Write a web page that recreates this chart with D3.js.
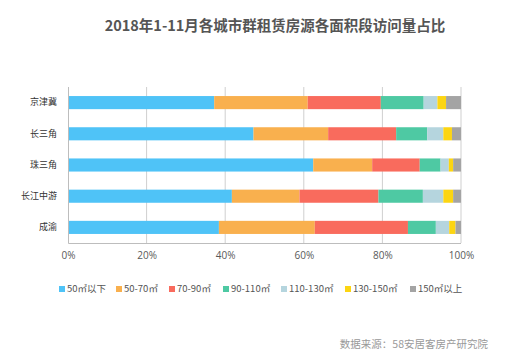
<!DOCTYPE html>
<html>
<head>
<meta charset="utf-8">
<script src="https://cdn.jsdelivr.net/npm/d3@7"></script>
<style>
  body { margin: 0; background: #fff; }
  svg { font-family: "Noto Sans CJK SC", "Noto Sans", sans-serif; }
</style>
</head>
<body>
<svg id="chart" width="517" height="360"></svg>
<script>
// --- Data ---
const regions = ["京津冀", "长三角", "珠三角", "长江中游", "成渝"];
const sizeBands = ["50㎡以下", "50-70㎡", "70-90㎡", "90-110㎡", "110-130㎡", "130-150㎡", "150㎡以上"];
const bandColors = ["#4fc3f7", "#f9b04e", "#f96b5d", "#4ec9a3", "#b5d5de", "#fcd512", "#a4a4a4"];
const shareJingjinji = [37.2, 23.8, 18.6, 10.9, 3.5, 2.2, 3.8];
const shareChangsanjiao = [47.2, 19.0, 17.3, 7.9, 4.1, 2.2, 2.3];
const shareZhusanjiao = [62.4, 15.0, 12.1, 5.3, 2.1, 1.1, 2.0];
const shareChangjiang = [41.7, 17.2, 20.1, 11.3, 5.2, 2.5, 2.0];
const shareChengyu = [38.4, 24.4, 23.7, 7.1, 3.4, 1.6, 1.4];
const tickValues = [0, 20, 40, 60, 80, 100];

const allShares = [shareJingjinji, shareChangsanjiao, shareZhusanjiao, shareChangjiang, shareChengyu];

// --- Layout ---
const margin = { left: 68, right: 56, top: 87, bottom: 117 };
const width = 517, height = 360;
const svg = d3.select("#chart");

const rows = regions.map((r, i) => {
  const o = { region: r };
  sizeBands.forEach((b, j) => (o[b] = allShares[i][j]));
  return o;
});
const stacked = d3.stack().keys(sizeBands)(rows);

const x = d3.scaleLinear().domain([0, 100]).range([margin.left, width - margin.right]);
const y = d3.scaleBand().domain(regions).range([margin.top, height - margin.bottom]).paddingInner(0.58).paddingOuter(0.29);
const color = d3.scaleOrdinal().domain(sizeBands).range(bandColors);

// title
svg.append("text")
  .attr("x", 275)
  .attr("y", 31)
  .attr("text-anchor", "middle")
  .attr("font-size", "14.5px")
  .attr("font-weight", "bold")
  .attr("fill", "#555")
  .text("2018年1-11月各城市群租赁房源各面积段访问量占比");

// gridlines
svg.append("g")
  .selectAll("line")
  .data(tickValues.slice(1))
  .join("line")
  .attr("x1", (d) => x(d))
  .attr("x2", (d) => x(d))
  .attr("y1", margin.top)
  .attr("y2", height - margin.bottom)
  .attr("stroke", "#cfcfcf")
  .attr("stroke-width", 1);

// bars
svg.append("g")
  .selectAll("g")
  .data(stacked)
  .join("g")
  .attr("fill", (d) => color(d.key))
  .selectAll("rect")
  .data((d) => d)
  .join("rect")
  .attr("x", (d) => x(d[0]))
  .attr("width", (d) => x(d[1]) - x(d[0]))
  .attr("y", (d) => y(d.data.region))
  .attr("height", y.bandwidth());

// axis frame (left + bottom)
svg.append("path")
  .attr("d", `M${x(0) + 0.5},${margin.top}V${height - margin.bottom + 0.5}H${x(100)}`)
  .attr("fill", "none")
  .attr("stroke", "#bdbdbd");

// x axis labels
const xAxis = d3.axisBottom(x)
  .tickValues(tickValues)
  .tickFormat((d) => d + "%")
  .tickSize(0)
  .tickPadding(9);
svg.append("g")
  .attr("transform", `translate(0,${height - margin.bottom})`)
  .call(xAxis)
  .call((g) => g.select(".domain").remove())
  .selectAll("text")
  .attr("font-size", "10px")
  .attr("fill", "#595959")
  .attr("font-family", "'Open Sans', 'Noto Sans', sans-serif");

// y axis labels
const yAxis = d3.axisLeft(y).tickSize(0).tickPadding(11);
svg.append("g")
  .attr("transform", `translate(${margin.left},0)`)
  .call(yAxis)
  .call((g) => g.select(".domain").remove())
  .selectAll("text")
  .attr("font-size", "9px")
  .attr("fill", "#333")
  .attr("font-family", "'Noto Sans CJK SC', sans-serif");

// legend
const legendX = [59, 116, 169, 223, 281, 345, 410];
const legend = svg.append("g")
  .selectAll("g")
  .data(sizeBands)
  .join("g")
  .attr("transform", (d, i) => `translate(${legendX[i]},289)`);
legend.append("rect")
  .attr("x", 0)
  .attr("y", -3)
  .attr("width", 6)
  .attr("height", 6)
  .attr("fill", (d) => color(d));
legend.append("text")
  .attr("x", 8)
  .attr("y", 0)
  .attr("dy", "0.35em")
  .attr("font-size", "9.5px")
  .attr("fill", "#555")
  .text((d) => d);

// source note
svg.append("text")
  .attr("x", 488)
  .attr("y", 348)
  .attr("text-anchor", "end")
  .attr("font-size", "10.5px")
  .attr("fill", "#999")
  .text("数据来源：58安居客房产研究院");
</script>
</body>
</html>
